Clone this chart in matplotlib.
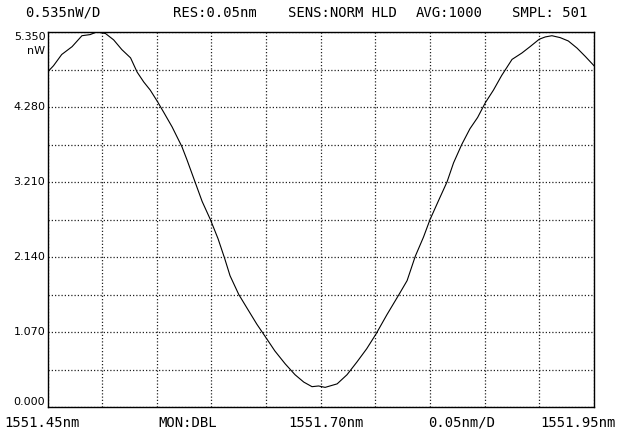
import matplotlib
matplotlib.use('Agg')
import matplotlib.pyplot as plt


# Trace (nm, nW)
wavelength_nm = [
    1551.4500, 1551.4555, 1551.4630, 1551.4725, 1551.4815, 1551.4890, 1551.4950,
    1551.5030, 1551.5105, 1551.5180, 1551.5260, 1551.5320, 1551.5380, 1551.5440,
    1551.5505, 1551.5565, 1551.5640, 1551.5730, 1551.5775, 1551.5850, 1551.5915,
    1551.5990, 1551.6060, 1551.6120, 1551.6170, 1551.6250, 1551.6325, 1551.6415,
    1551.6505, 1551.6580, 1551.6675, 1551.6765, 1551.6845, 1551.6920, 1551.6980,
    1551.7040, 1551.7150, 1551.7240, 1551.7330, 1551.7420, 1551.7505, 1551.7605,
    1551.7720, 1551.7790, 1551.7865, 1551.7940, 1551.8000, 1551.8080, 1551.8155,
    1551.8215, 1551.8290, 1551.8365, 1551.8435, 1551.8505, 1551.8580, 1551.8655,
    1551.8750, 1551.8840, 1551.8915, 1551.9000, 1551.9055, 1551.9115, 1551.9190,
    1551.9265, 1551.9345, 1551.9420, 1551.9500,
]
power_nw = [
    4.778, 4.869, 5.029, 5.141, 5.297, 5.313, 5.350,
    5.329, 5.238, 5.099, 4.981, 4.778, 4.638, 4.521,
    4.360, 4.200, 3.996, 3.713, 3.531, 3.210, 2.932,
    2.675, 2.402, 2.124, 1.873, 1.605, 1.412, 1.182,
    0.975, 0.800, 0.615, 0.460, 0.355, 0.290, 0.300,
    0.280, 0.330, 0.460, 0.640, 0.830, 1.040, 1.316,
    1.616, 1.803, 2.151, 2.424, 2.675, 2.953, 3.210,
    3.483, 3.745, 3.970, 4.130, 4.339, 4.521, 4.729,
    4.959, 5.050, 5.141, 5.248, 5.280, 5.297, 5.270,
    5.222, 5.120, 5.002, 4.869,
]

x_start, x_stop, x_div = 1551.45, 1551.95, 0.05
y_div = 0.535
y_labels = ['0.000', '1.070', '2.140', '3.210', '4.280', '5.350']

header = [('0.535nW/D', 25), ('RES:0.05nm', 173), ('SENS:NORM HLD', 288),
          ('AVG:1000', 416), ('SMPL: 501', 512)]
footer = [('1551.45nm', 4), ('MON:DBL', 158), ('1551.70nm', 288),
          ('0.05nm/D', 428), ('1551.95nm', 540)]

W, H = 628, 442
font = 'DejaVu Sans Mono'

fig = plt.figure(figsize=(W / 100, H / 100), dpi=100)
fig.patch.set_facecolor('white')
ax = fig.add_axes([47.5 / W, 1 - 407 / H, (594 - 47.5) / W, (407 - 32) / H])

ax.plot(wavelength_nm, power_nw, color='black', linewidth=0.8)

ax.set_xlim(x_start, x_stop)
ax.set_ylim(0, 10 * y_div)
ax.set_xticks([x_start + i * x_div for i in range(11)])
ax.set_yticks([i * y_div for i in range(11)])
ax.tick_params(length=0, labelbottom=False, labelleft=False)
ax.grid(True, color='#222222', linestyle=(0, (1.0, 1.6)), linewidth=0.9)
for s in ax.spines.values():
    s.set_color('black')
    s.set_linewidth(1.0)

# y labels every two divisions
ytr = ax.get_yaxis_transform()
for i, lab in enumerate(y_labels):
    val = 2 * i * y_div
    va = 'center'
    if i == 0:
        val = 0.07
    elif i == len(y_labels) - 1:
        va = 'top'
    ax.text(-0.004, val, lab, transform=ytr, ha='right', va=va,
            fontsize=8, family='DejaVu Sans')
ax.text(-0.004, 10 * y_div - 0.20, 'nW', transform=ytr, ha='right', va='top',
        fontsize=8, family='DejaVu Sans')

for txt, x in header:
    fig.text(x / W, 1 - 13 / H, txt, ha='left', va='center', fontsize=10, family=font)
for txt, x in footer:
    fig.text(x / W, 1 - 423 / H, txt, ha='left', va='center', fontsize=10, family=font)

fig.savefig('out.png', dpi=100)
